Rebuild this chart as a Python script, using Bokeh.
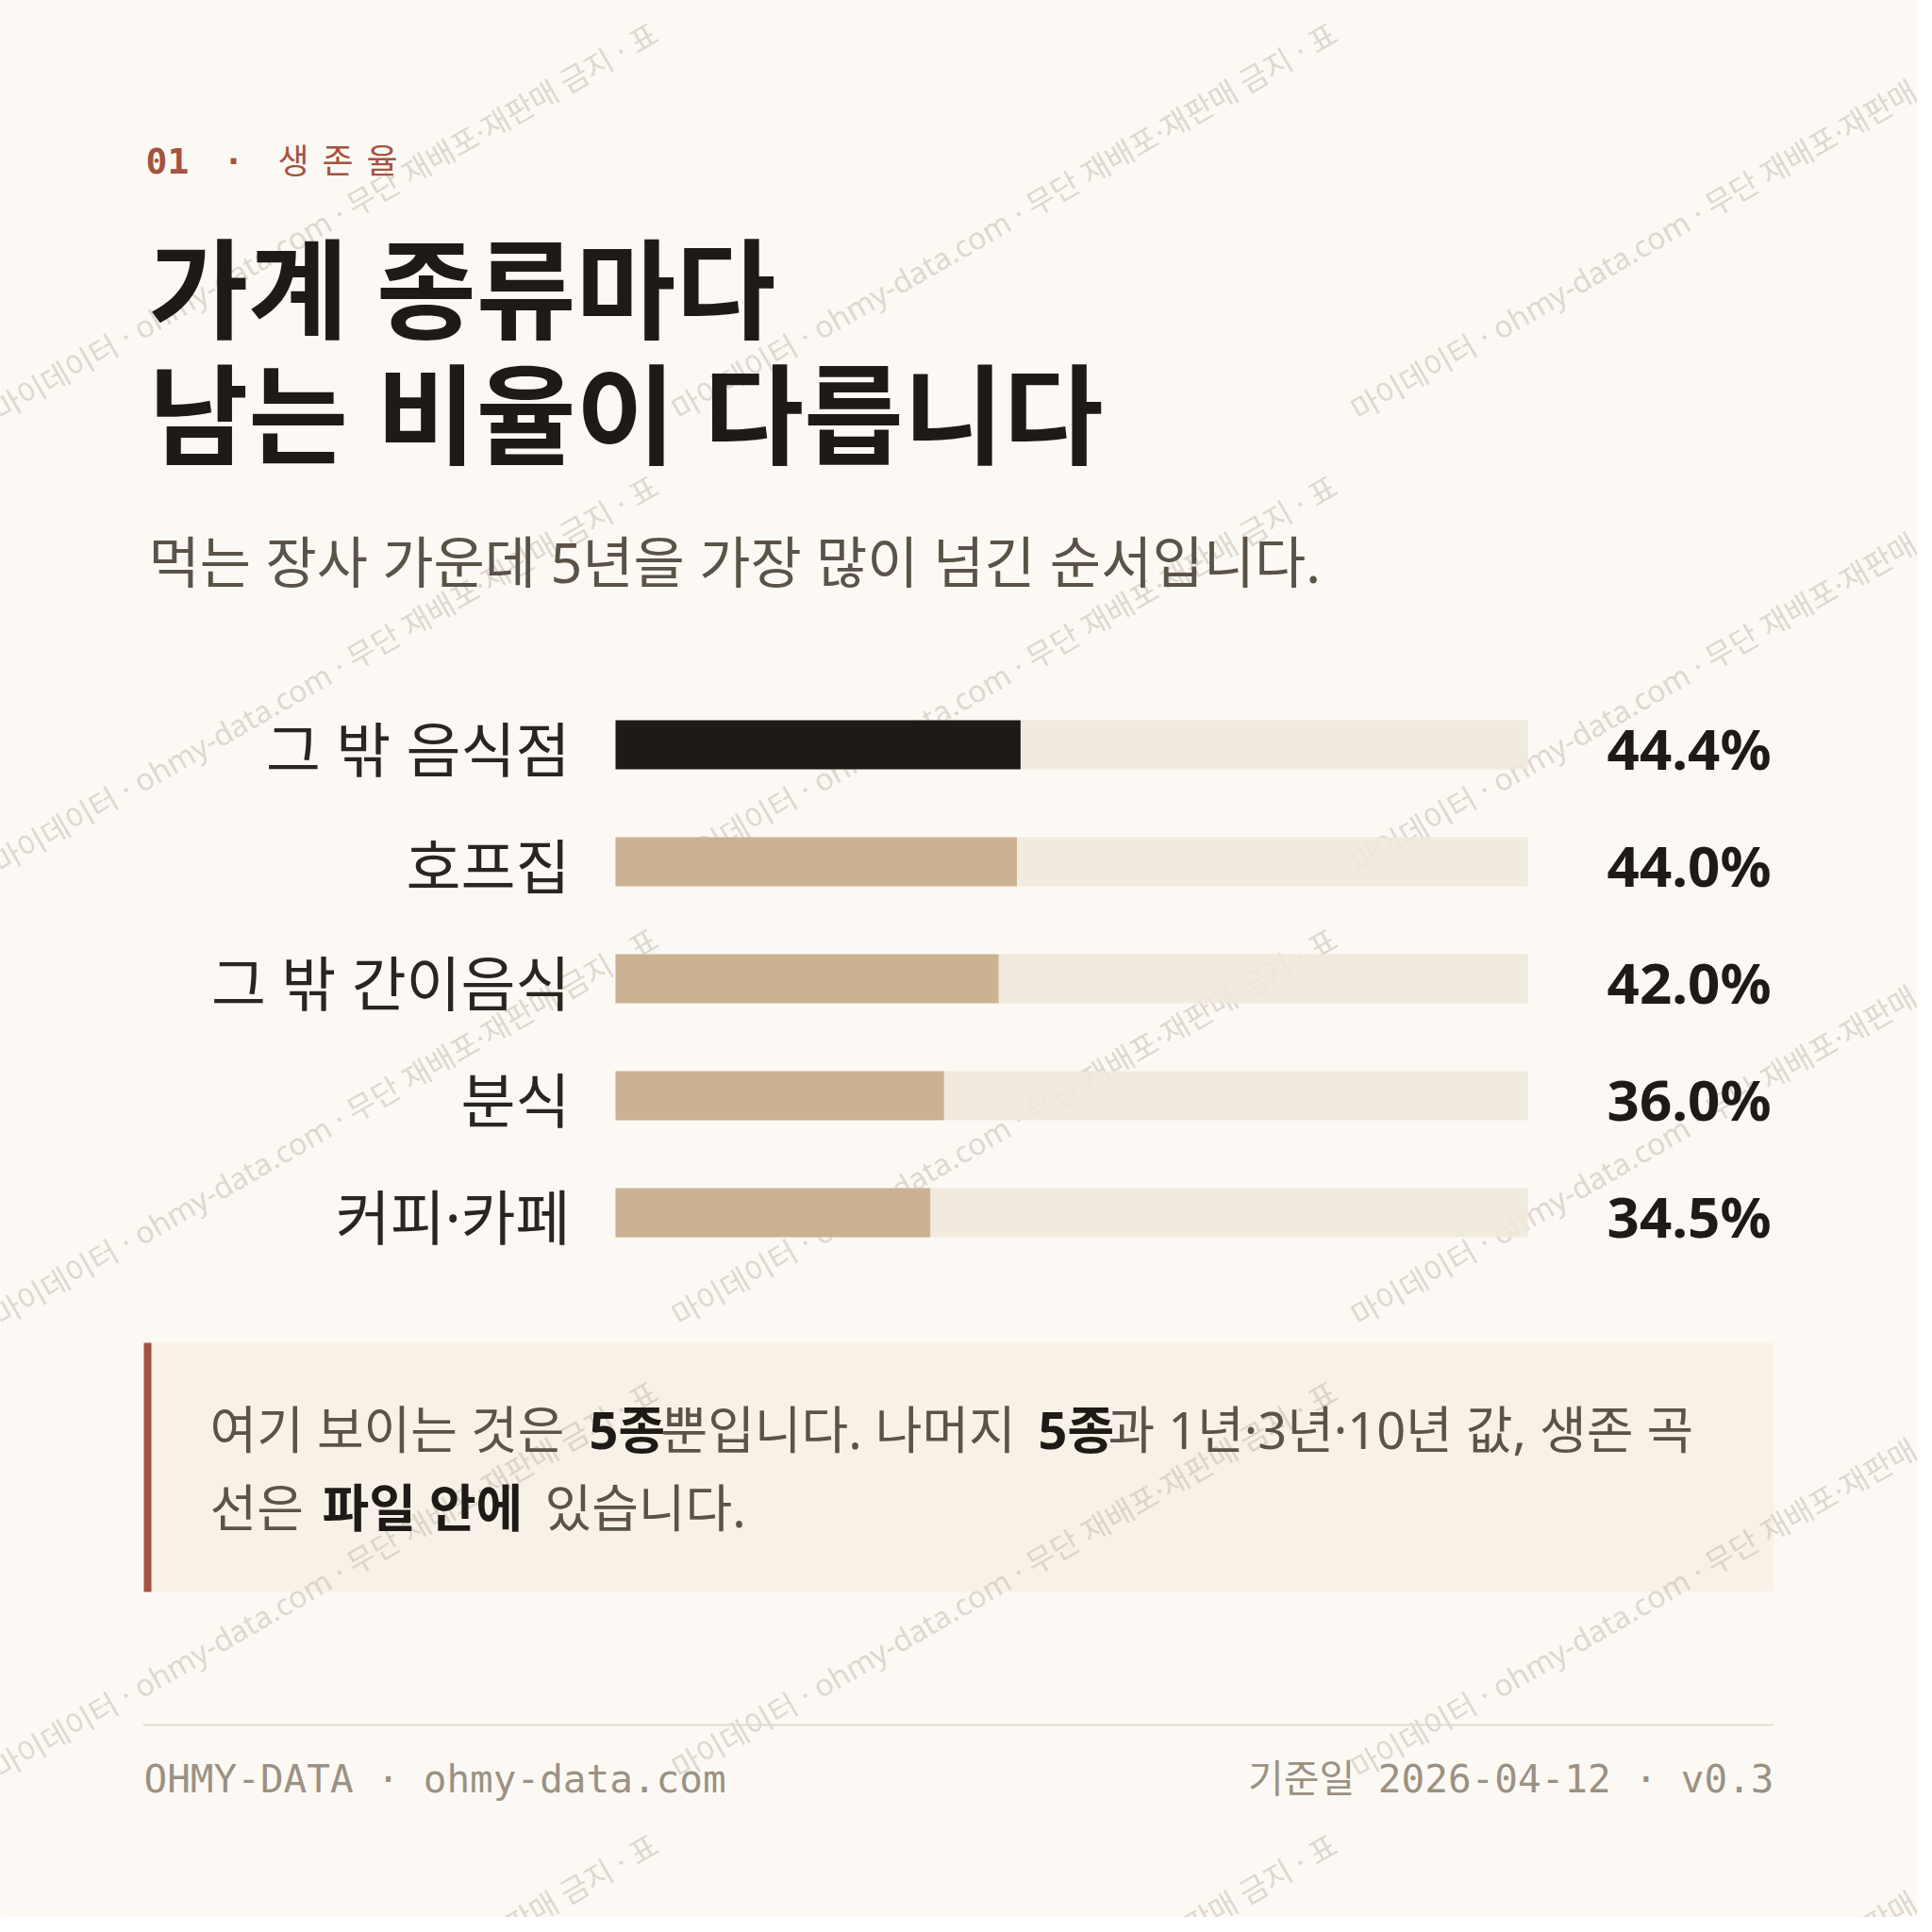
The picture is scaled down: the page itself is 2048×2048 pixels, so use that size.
from bokeh.plotting import figure
from bokeh.models import Range1d
from bokeh.core.properties import value
from bokeh.embed import file_html
from bokeh.resources import INLINE

# data: 5-year survival rate by store type
categories = ["그 밖 음식점", "호프집", "그 밖 간이음식", "분식", "커피·카페"]
survival_5y = [44.4, 44.0, 42.0, 36.0, 34.5]
pct_labels = ["%.1f%%" % v for v in survival_5y]

kicker = "01"
kicker_word = ["생", "존", "율"]
title_lines = ["가계 종류마다", "남는 비율이 다릅니다"]
subtitle = "먹는 장사 가운데 5년을 가장 많이 넘긴 순서입니다."
note_line1 = [("여기 보이는 것은", False), ("5종", True), ("뿐입니다. 나머지", False),
              ("5종", True), ("과 1년·3년·10년 값, 생존 곡", False)]
note_line2 = [("선은", False), ("파일 안에", True), ("있습니다.", False)]
footer_left = "OHMY-DATA · ohmy-data.com"
footer_right = "기준일 2026-04-12 · v0.3"
watermark = "마이데이터 · ohmy-data.com · 무단 재배포·재판매 금지 · 표"

BG = "#fcf9f4"
INK = "#1e1a17"
TAN = "#c8ac8a"
TRACK = "#f0e8dc"
ACCENT = "#a65240"
MUTED = "#5b5248"
KR = value("Noto Sans, Noto Sans CJK KR")
MONO = value("DejaVu Sans Mono, Noto Sans CJK KR")

W = H = 2032
BAR_X0, BAR_X1 = 660, 1627
ROW_Y0, ROW_STEP = 797, 124

p = figure(width=W, height=H, output_backend="svg", toolbar_location=None,
           x_range=Range1d(8, 8 + W), y_range=Range1d(8 + H, 8),
           x_axis_type=None, y_axis_type=None, min_border=0)
p.background_fill_color = BG
p.border_fill_color = BG
p.outline_line_color = None
p.xgrid.visible = False
p.ygrid.visible = False

px_per_pct = (BAR_X1 - BAR_X0) / 100.0
p.extra_x_ranges = {"pct": Range1d((8 - BAR_X0) / px_per_pct, (8 + W - BAR_X0) / px_per_pct)}
p.extra_y_ranges = {"row": Range1d((8 + H - ROW_Y0) / ROW_STEP, (8 - ROW_Y0) / ROW_STEP)}

# note box
p.quad(left=[160], right=[1888], top=[1431], bottom=[1695], fill_color="#f8f1e7", line_color=None)
p.quad(left=[160], right=[168], top=[1431], bottom=[1695], fill_color=ACCENT, line_color=None)

# watermark tiles
wx, wy = [], []
for ty in range(0, 2400, 480):
    for tx in range(0, 2100, 720):
        wx.append(tx + 2)
        wy.append(ty + 444)
p.text(x=wx, y=wy, text=[watermark] * len(wx), angle=30, angle_units="deg",
       text_font=KR, text_font_size="32px", text_color="#c4bcb1", text_alpha=0.55,
       text_baseline="alphabetic")

# bars
rows = list(range(len(categories)))
bar_colors = [INK if i == 0 else TAN for i in rows]
p.hbar(y=rows, left=0, right=100, height=52 / ROW_STEP, fill_color=TRACK, fill_alpha=0.9,
       line_color=None, x_range_name="pct", y_range_name="row")
p.hbar(y=rows, left=0, right=survival_5y, height=52 / ROW_STEP, fill_color=bar_colors,
       fill_alpha=[1.0 if i == 0 else 0.92 for i in rows],
       line_color=None, x_range_name="pct", y_range_name="row")

p.text(x=[612] * len(rows), y=[r + 0.03 for r in rows], text=categories, y_range_name="row",
       text_font=KR, text_font_size="63px", text_color="#2a2520",
       text_align="right", text_baseline="middle")
p.text(x=[1885] * len(rows), y=[r + 0.03 for r in rows], text=pct_labels, y_range_name="row",
       text_font=KR, text_font_size="60px", text_font_style="bold", text_color=INK,
       text_align="right", text_baseline="middle")

# header
p.text(x=[162], y=[178], text=[kicker], text_font=MONO, text_font_size="38px",
       text_font_style="bold", text_color=ACCENT, text_baseline="middle")
p.text(x=[255], y=[178], text=["·"], text_font=MONO, text_font_size="36px",
       text_font_style="bold", text_color=ACCENT, text_baseline="middle", text_align="center")
p.text(x=[302, 349, 396], y=[178] * 3, text=kicker_word, text_font=KR, text_font_size="36px",
       text_color=ACCENT, text_baseline="middle")

p.text(x=[165, 165], y=[313, 446], text=title_lines, text_font=KR, text_font_size="115px",
       text_font_style="bold", text_color=INK, text_baseline="middle")
p.text(x=[165], y=[602], text=[subtitle], text_font=KR, text_font_size="59px",
       text_color=MUTED, text_baseline="middle")

# note text
for line_y, segs, xs in [(1522, note_line1, [230, 632, 708, 1108, 1182]),
                         (1605, note_line2, [230, 349, 585])]:
    for (s, bold), sx in zip(segs, xs):
        p.text(x=[sx], y=[line_y], text=[s], text_font=KR, text_font_size="54px",
               text_font_style="bold" if bold else "normal",
               text_color=INK if bold else MUTED, text_baseline="middle")

# footer
p.segment(x0=[159], x1=[1888], y0=[1836], y1=[1836], line_color="#e2dccf", line_width=2)
p.text(x=[160], y=[1893], text=[footer_left], text_font=MONO, text_font_size="41px",
       text_color="#9b9183", text_baseline="middle")
p.text(x=[1888], y=[1893], text=[footer_right], text_font=MONO, text_font_size="41px",
       text_color="#9b9183", text_baseline="middle", text_align="right")

open("out.html", "w").write(file_html(p, INLINE))
